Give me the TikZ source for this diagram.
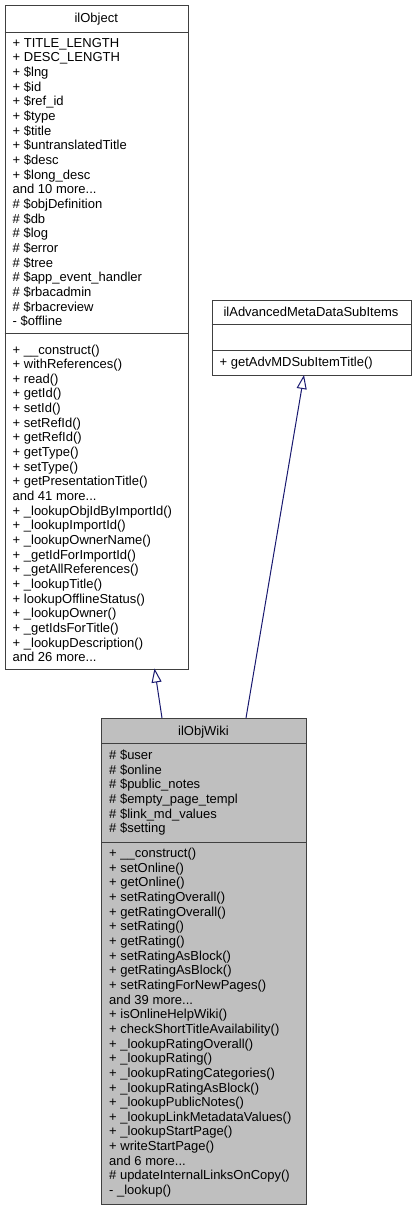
\documentclass[tikz,border=0pt]{standalone}
\usepackage{fontspec}
\setmainfont{Liberation Sans}
\usetikzlibrary{arrows.meta}
\definecolor{edgeblue}{HTML}{191970}
\definecolor{wikigrey}{HTML}{BFBFBF}
\newcommand{\mdots}{...}
\tikzset{
  classbox/.style={draw=black!75, line width=1pt, inner sep=0pt, anchor=north west},
  sepline/.style={black!75, line width=1pt},
  member/.style={anchor=base west, inner sep=0pt, font=\fontsize{13}{15}\selectfont},
  classname/.style={anchor=base, inner sep=0pt, font=\fontsize{13}{15}\selectfont},
  inherit/.style={edgeblue, line width=1pt, -{Triangle[open, length=14pt, width=10pt]}}
}
\begin{document}
\begin{tikzpicture}[x=1pt, y=-1pt]
\useasboundingbox[fill=white] (0,0) rectangle (416,1211);
\node[classbox, minimum width=183.5pt, minimum height=664pt] (ilobject) at (4.5,4.5) {};
\node[classbox, minimum width=199pt, minimum height=75.5pt] (iladvmd) at (211.5,299.5) {};
\node[classbox, fill=wikigrey, minimum width=205pt, minimum height=486pt] (ilobjwiki) at (101,718) {};
\draw[sepline] (4.5,32.5) -- (188,32.5);
\draw[sepline] (4.5,333.5) -- (188,333.5);
\draw[sepline] (211.5,324) -- (410.5,324);
\draw[sepline] (211.5,350.5) -- (410.5,350.5);
\draw[sepline] (101,743) -- (306,743);
\draw[sepline] (101,842) -- (306,842);
\node[classname] (ilobjectname) at (96.25,22) {ilObject};
\node[classname] (iladvmdname) at (311,316.3) {ilAdvancedMetaDataSubItems};
\node[classname] (ilobjwikiname) at (203.5,735) {ilObjWiki};
\foreach \m [count=\i] in {+ TITLE\_LENGTH, + DESC\_LENGTH, + \$lng, + \$id, + \$ref\_id, + \$type, + \$title, + \$untranslatedTitle, + \$desc, + \$long\_desc, and 10 more\mdots, \# \$objDefinition, \# \$db, \# \$log, \# \$error, \# \$tree, \# \$app\_event\_handler, \# \$rbacadmin, \# \$rbacreview, - \$offline}
  \node[member] (objattr\i) at (12.5,{47.3+14.65*(\i-1)}) {\m};
\foreach \m [count=\i] in {+ \_\_construct(), + withReferences(), + read(), + getId(), + setId(), + setRefId(), + getRefId(), + getType(), + setType(), + getPresentationTitle(), and 41 more\mdots, + \_lookupObjIdByImportId(), + \_lookupImportId(), + \_lookupOwnerName(), + \_getIdForImportId(), + \_getAllReferences(), + \_lookupTitle(), + lookupOfflineStatus(), + \_lookupOwner(), + \_getIdsForTitle(), + \_lookupDescription(), and 26 more\mdots}
  \node[member] (objop\i) at (12.5,{354+14.65*(\i-1)}) {\m};
\node[member] (advop1) at (219.5,366.3) {+ getAdvMDSubItemTitle()};
\foreach \m [count=\i] in {\# \$user, \# \$online, \# \$public\_notes, \# \$empty\_page\_templ, \# \$link\_md\_values, \# \$setting}
  \node[member] (wikiattr\i) at (109,{759.6+14.65*(\i-1)}) {\m};
\foreach \m [count=\i] in {+ \_\_construct(), + setOnline(), + getOnline(), + setRatingOverall(), + getRatingOverall(), + setRating(), + getRating(), + setRatingAsBlock(), + getRatingAsBlock(), + setRatingForNewPages(), and 39 more\mdots, + isOnlineHelpWiki(), + checkShortTitleAvailability(), + \_lookupRatingOverall(), + \_lookupRating(), + \_lookupRatingCategories(), + \_lookupRatingAsBlock(), + \_lookupPublicNotes(), + \_lookupLinkMetadataValues(), + \_lookupStartPage(), + writeStartPage(), and 6 more\mdots, \# updateInternalLinksOnCopy(), - \_lookup()}
  \node[member] (wikiop\i) at (109,{857.6+14.65*(\i-1)}) {\m};
\coordinate (wikitoobj) at (162,718);
\coordinate (wikitoadv) at (246,718);
\coordinate (objtip) at (154.5,668.5);
\coordinate (advtip) at (304,375);
\draw[inherit] (wikitoobj) -- (objtip);
\draw[inherit] (wikitoadv) -- (advtip);
\end{tikzpicture}
\end{document}
